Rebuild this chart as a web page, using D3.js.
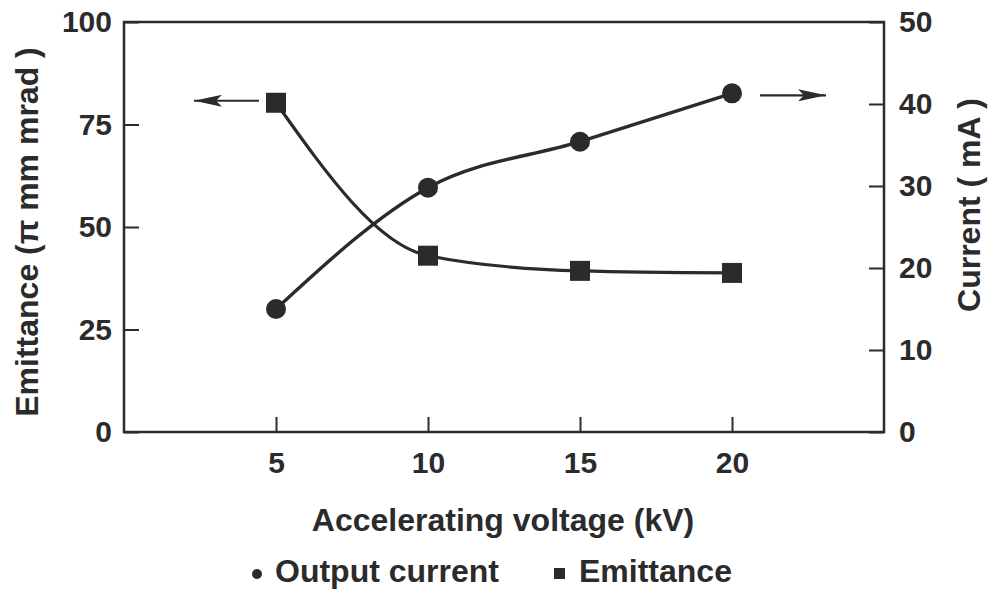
<!DOCTYPE html>
<html>
<head>
	<meta charset="utf-8">
	<title>emittance</title>
	<script src="https://cdn.jsdelivr.net/npm/d3@7"></script>
	<style>
		body{margin:0;background:#fff;}
		text{font-family:"Liberation Sans",Arial,sans-serif;font-weight:bold;fill:#2b2b2b;}
	</style>
</head>
<body>
	<script>
		// data
		var voltage=[5,10,15,20];
		var current=[15.0,29.8,35.4,41.3];     // mA, right axis
		var emittance=[80.3,43.0,39.3,38.8];   // pi mm mrad, left axis
		var xTicks=[5,10,15,20],
			leftTicks=[0,25,50,75,100],
			rightTicks=[0,10,20,30,40,50];

		var width=996, height=596,
			pLeft=124, pRight=884, pTop=22, pBottom=432,
			ink="#2b2b2b";

		var svg=d3.select("body").append("svg")
			.attr("width",width).attr("height",height);

		var x=d3.scaleLinear().domain([0,25]).range([pLeft,pRight]);
		var yE=d3.scaleLinear().domain([0,100]).range([pBottom,pTop]);
		var yC=d3.scaleLinear().domain([0,50]).range([pBottom,pTop]);

		// axes, ticks point inward
		var gl=svg.append("g").attr("transform","translate("+pLeft+",0)")
			.call(d3.axisLeft(yE).tickValues(leftTicks).tickSize(-15).tickPadding(12));
		var gr=svg.append("g").attr("transform","translate("+pRight+",0)")
			.call(d3.axisRight(yC).tickValues(rightTicks).tickSize(-15).tickPadding(15));
		var gb=svg.append("g").attr("transform","translate(0,"+pBottom+")")
			.call(d3.axisBottom(x).tickValues(xTicks).tickSize(-15).tickPadding(20));
		[gl,gr,gb].forEach(function(g){
			g.select(".domain").remove();
			g.selectAll("line").attr("stroke",ink).attr("stroke-width",2);
			g.selectAll("text").attr("font-size",30).attr("fill",ink)
				.style("font-family","'Liberation Sans',Arial,sans-serif").style("font-weight","bold");
		});

		svg.append("rect")
			.attr("x",pLeft).attr("y",pTop)
			.attr("width",pRight-pLeft).attr("height",pBottom-pTop)
			.attr("fill","none").attr("stroke",ink).attr("stroke-width",2.5);

		// titles
		svg.append("text")
			.attr("transform","translate(30,232) rotate(-90)")
			.attr("text-anchor","middle").attr("dominant-baseline","middle")
			.attr("font-size",32)
			.text("Emittance (\u03c0 mm mrad )");
		svg.append("text")
			.attr("transform","translate(972,205) rotate(-90)")
			.attr("text-anchor","middle").attr("dominant-baseline","middle")
			.attr("font-size",32)
			.text("Current ( mA )");
		svg.append("text")
			.attr("x",503).attr("y",523)
			.attr("text-anchor","middle").attr("dominant-baseline","middle")
			.attr("font-size",32)
			.text("Accelerating voltage (kV)");

		// curves
		var lineE=d3.line().x(function(d,i){return x(voltage[i]);}).y(function(d){return yE(d);})
			.curve(d3.curveMonotoneX);
		var lineC=d3.line().x(function(d,i){return x(voltage[i]);}).y(function(d){return yC(d);})
			.curve(d3.curveMonotoneX);

		svg.append("path").attr("d",lineE(emittance))
			.attr("fill","none").attr("stroke",ink).attr("stroke-width",3.2);
		svg.append("path").attr("d",lineC(current))
			.attr("fill","none").attr("stroke",ink).attr("stroke-width",3.4);

		svg.selectAll(".sq").data(emittance).enter().append("rect")
			.attr("class","sq")
			.attr("x",function(d,i){return x(voltage[i])-10;})
			.attr("y",function(d){return yE(d)-10;})
			.attr("width",20).attr("height",20)
			.attr("fill",ink);
		svg.selectAll(".dot").data(current).enter().append("circle")
			.attr("class","dot")
			.attr("cx",function(d,i){return x(voltage[i]);})
			.attr("cy",function(d){return yC(d);})
			.attr("r",10)
			.attr("fill",ink);

		// arrows telling which axis belongs to which series
		svg.append("defs").append("marker").attr("id","head")
			.attr("viewBox","0 0 28 12").attr("refX",28).attr("refY",6)
			.attr("markerWidth",28).attr("markerHeight",12)
			.attr("markerUnits","userSpaceOnUse")
			.attr("orient","auto")
			.append("path").attr("d","M0,0 L28,6 L0,12 L6,6 Z").attr("fill",ink);

		var e0=emittance[0], c3=current[3];
		svg.append("line")
			.attr("x1",x(voltage[0])-17).attr("y1",yE(e0)-2)
			.attr("x2",x(voltage[0])-82).attr("y2",yE(e0)-2)
			.attr("stroke",ink).attr("stroke-width",2.2)
			.attr("marker-end","url(#head)");
		svg.append("line")
			.attr("x1",x(voltage[3])+28).attr("y1",yC(c3)+2)
			.attr("x2",x(voltage[3])+94).attr("y2",yC(c3)+2)
			.attr("stroke",ink).attr("stroke-width",2.2)
			.attr("marker-end","url(#head)");

		// legend
		var lg=svg.append("g").attr("transform","translate(0,574)");
		lg.append("circle").attr("cx",257).attr("cy",0).attr("r",5).attr("fill",ink);
		lg.append("text").attr("x",275).attr("y",0).attr("dominant-baseline","middle")
			.attr("font-size",32).text("Output current");
		lg.append("rect").attr("x",554).attr("y",-6).attr("width",11).attr("height",11).attr("fill",ink);
		lg.append("text").attr("x",579).attr("y",0).attr("dominant-baseline","middle")
			.attr("font-size",32).text("Emittance");
	</script>
</body>
</html>
